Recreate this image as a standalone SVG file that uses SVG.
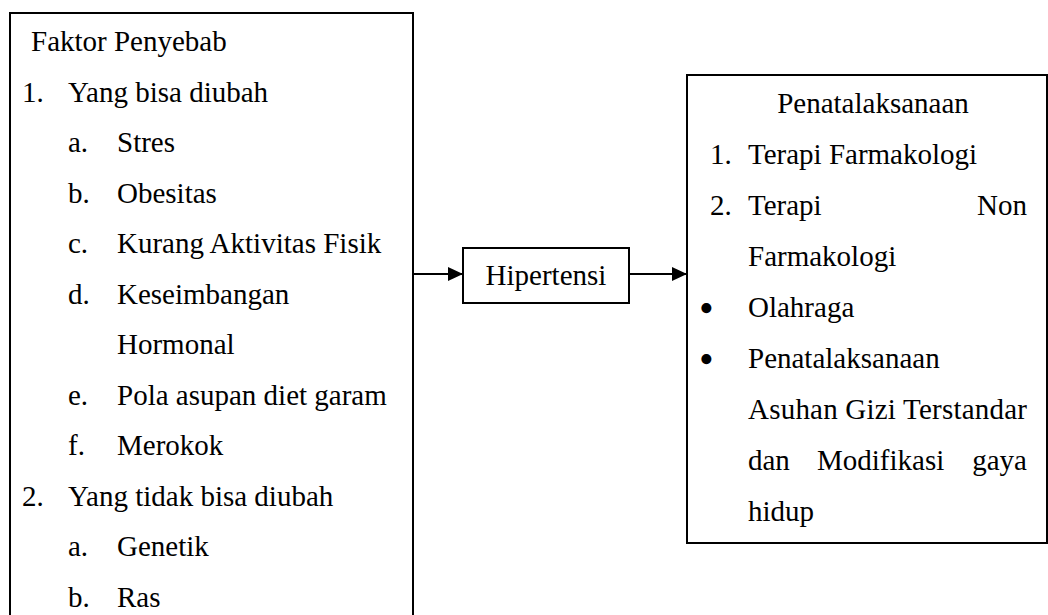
<svg xmlns="http://www.w3.org/2000/svg" width="1048" height="615" viewBox="0 0 1048 615">
<style>
text{font-family:"Liberation Serif","Times New Roman",serif;font-size:29px;fill:#000}
.box{fill:#fff;stroke:#000;stroke-width:2}
.conn{stroke:#000;stroke-width:2;fill:none}
.bul{font-size:42px}
</style>
<defs>
<marker id="ah" markerWidth="15" markerHeight="14" refX="15" refY="7" orient="auto" markerUnits="userSpaceOnUse">
<path d="M0,0 L15,7 L0,14 Z" fill="#000"/>
</marker>
</defs>
<rect width="1048" height="615" fill="#fff"/>
<g id="node-faktor">
<rect class="box" x="10" y="13" width="403" height="620"/>
<text x="31" y="51">Faktor Penyebab</text>
<text x="22" y="101.5">1.</text><text x="68" y="101.5">Yang bisa diubah</text>
<text x="68" y="152">a.</text><text x="117" y="152">Stres</text>
<text x="68" y="202.5">b.</text><text x="117" y="202.5">Obesitas</text>
<text x="68" y="253">c.</text><text x="117" y="253">Kurang Aktivitas Fisik</text>
<text x="68" y="303.5">d.</text><text x="117" y="303.5">Keseimbangan</text>
<text x="117" y="354">Hormonal</text>
<text x="68" y="404.5">e.</text><text x="117" y="404.5">Pola asupan diet garam</text>
<text x="68" y="455">f.</text><text x="117" y="455">Merokok</text>
<text x="22" y="505.5">2.</text><text x="68" y="505.5">Yang tidak bisa diubah</text>
<text x="68" y="556">a.</text><text x="117" y="556">Genetik</text>
<text x="68" y="606.5">b.</text><text x="117" y="606.5">Ras</text>
</g>
<g id="node-hipertensi">
<rect class="box" x="463" y="248" width="166" height="55"/>
<text x="546" y="285" text-anchor="middle">Hipertensi</text>
</g>
<g id="node-penatalaksanaan">
<rect class="box" x="687" y="75" width="360" height="468"/>
<text x="873" y="113" text-anchor="middle">Penatalaksanaan</text>
<text x="710" y="164">1.</text><text x="748" y="164">Terapi Farmakologi</text>
<text x="710" y="215">2.</text><text x="748" y="215">Terapi</text><text x="1027" y="215" text-anchor="end">Non</text>
<text x="748" y="266">Farmakologi</text>
<text class="bul" x="699" y="322">•</text><text x="748" y="317">Olahraga</text>
<text class="bul" x="699" y="373">•</text><text x="748" y="368">Penatalaksanaan</text>
<text x="748" y="419" textLength="279" lengthAdjust="spacing">Asuhan Gizi Terstandar</text>
<text x="748" y="470">dan</text><text x="817" y="470">Modifikasi</text><text x="1027" y="470" text-anchor="end">gaya</text>
<text x="748" y="521">hidup</text>
</g>
<g id="connectors">
<line class="conn" x1="413" y1="274" x2="463" y2="274" marker-end="url(#ah)"/>
<line class="conn" x1="629" y1="274" x2="687" y2="274" marker-end="url(#ah)"/>
</g>
</svg>
